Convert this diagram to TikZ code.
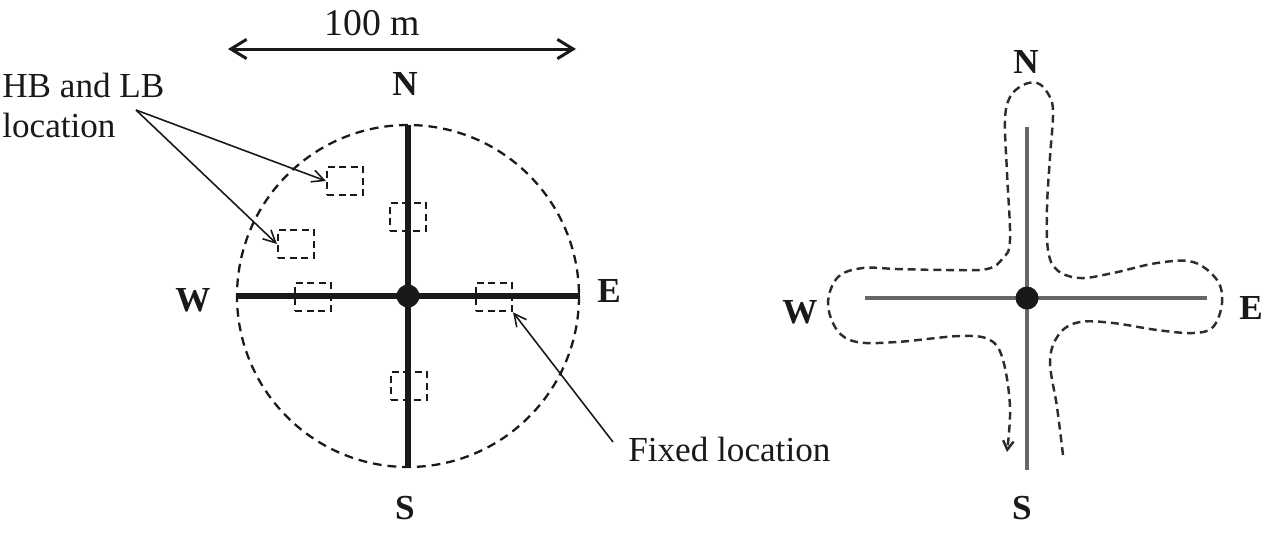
\documentclass[tikz,border=0pt]{standalone}
\usepackage{fontspec}
\setmainfont{Liberation Serif}
\usetikzlibrary{arrows.meta,positioning}
\definecolor{inkblack}{RGB}{25,25,25}
\definecolor{roadgrey}{RGB}{108,100,100}
\definecolor{pathgrey}{RGB}{45,45,45}

\begin{document}
\begin{tikzpicture}[
    x=0.02cm, y=-0.02cm,
    lbl/.style={font=\fontsize{20}{22.7}\selectfont, inner sep=0pt, text=inkblack},
    dir/.style={lbl, font=\fontsize{20}{22.7}\selectfont\bfseries},
    spot/.style={draw=inkblack, dash pattern=on 4pt off 2.6pt, line width=1.2pt,
                 minimum width=0.72cm, minimum height=0.57cm, inner sep=0pt},
    road/.style={line width=3.4pt, inkblack},
    street/.style={line width=2.3pt, roadgrey},
    callout/.style={-{Straight Barb[length=7pt,width=7pt]}, line width=0.9pt, inkblack},
    route/.style={pathgrey, line width=1.4pt, dash pattern=on 4.5pt off 2.8pt,
                  -{Straight Barb[length=5pt,width=6pt]}}
]
    \useasboundingbox (0,0) rectangle (1280,539);

    % left: sampling plot
    \coordinate (ctrL) at (408,296);
    \coordinate (wL) at (237,296);
    \coordinate (eL) at (580,296);
    \coordinate (nL) at (408,125);
    \coordinate (sL) at (408,467);
    \draw[inkblack, line width=1.3pt, dash pattern=on 5pt off 3.4pt] (ctrL) circle (171);
    \draw[road] (wL) -- (eL);
    \draw[road] (nL) -- (sL);
    \fill[inkblack] (ctrL) circle (11.5);

    \node[spot] (hbA)  at (345,181) {};
    \node[spot] (hbB)  at (296,244) {};
    \node[spot] (fixN) at (408,217) {};
    \node[spot] (fixW) at (313,297) {};
    \node[spot] (fixE) at (494,297) {};
    \node[spot] (fixS) at (409,386) {};

    \node[dir] (labNL) at (405,84)  {N};
    \node[dir] (labSL) at (405,508) {S};
    \node[dir] (labWL) at (193,300) {W};
    \node[dir] (labEL) at (609,291) {E};

    \node[lbl, font=\fontsize{21.5}{24}\selectfont] (scale) at (372,23) {100 m};
    \coordinate (scW) at (228,49);
    \coordinate (scE) at (576,49);
    \draw[{Straight Barb[length=9pt,width=11pt]}-{Straight Barb[length=9pt,width=11pt]},
          line width=1.7pt, inkblack] (scW) -- (scE);

    \node[lbl, anchor=north west, align=left] (hblbl) at (2,73) {HB and LB\\location};
    \coordinate (hbsrc) at (136,110);
    \draw[callout] (hbsrc) -- (hbA.west);
    \draw[callout] (hbsrc) -- (hbB.west);

    \node[lbl, anchor=west] (fixlbl) at (628,449) {Fixed location};
    \coordinate (fixsrc) at (613,442);
    \draw[callout] (fixsrc) -- (fixE.south east);

    % right: walking route
    \coordinate (ctrR) at (1027,298);
    \coordinate (wR) at (865,298);
    \coordinate (eR) at (1207,298);
    \coordinate (nR) at (1027,127);
    \coordinate (sR) at (1027,470);
    \draw[street] (wR) -- (eR);
    \draw[street] (nR) -- (sR);
    \fill[inkblack] (ctrR) circle (11.5);

    \node[dir] (labNR) at (1026,62)  {N};
    \node[dir] (labSR) at (1022,508) {S};
    \node[dir] (labWR) at (800,312)  {W};
    \node[dir] (labER) at (1251,308) {E};

    \draw[route] plot[smooth, tension=0.6] coordinates {
        (1063,455) (1057,407) (1050,360) (1060,333) (1080,322) (1113,323)
        (1157,330) (1193,333) (1213,327) (1222,303) (1217,280) (1193,262)
        (1157,263) (1113,273) (1080,278) (1057,270) (1048,250) (1047,207)
        (1050,157) (1053,110) (1047,92) (1037,83) (1023,85) (1010,97)
        (1005,120) (1007,173) (1010,240) (1003,258) (987,269) (947,270)
        (897,269) (863,268) (838,277) (828,303) (837,330) (857,342)
        (897,342) (960,336) (990,340) (1003,360) (1010,407) (1007,452)};
\end{tikzpicture}
\end{document}
